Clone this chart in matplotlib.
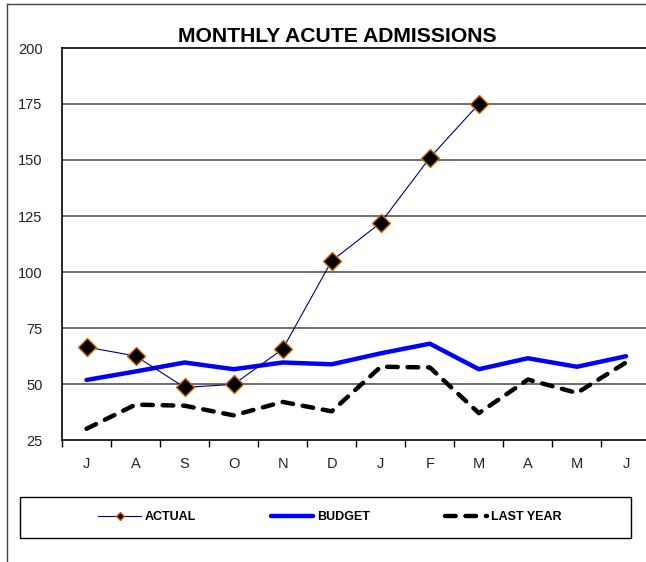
import matplotlib
matplotlib.use('Agg')
import matplotlib.pyplot as plt
from matplotlib.lines import Line2D
from matplotlib.patches import Rectangle

plt.rcParams['font.family'] = ['Liberation Sans', 'DejaVu Sans']

months = ['J', 'A', 'S', 'O', 'N', 'D', 'J', 'F', 'M', 'A', 'M', 'J']
actual = [66.5, 62.5, 48.5, 49.8, 65.6, 105, 122, 151, 175]
budget = [51.8, 55.6, 59.6, 56.6, 59.6, 58.8, 63.7, 68, 56.6, 61.5, 57.7, 62.4]
last_year = [30, 40.8, 40.3, 36, 42, 37.8, 57.7, 57.4, 37, 52, 46, 59.6]
yticks = [25, 50, 75, 100, 125, 150, 175, 200]

fig = plt.figure(figsize=(6.46, 5.62), dpi=100)
ax = fig.add_axes([62/646, 1-440/562, 588.5/646, 392/562])

x = range(len(months))
ax.plot(range(len(actual)), actual, color='#000080', lw=0.8, marker='D',
        markersize=9.5, markerfacecolor='black', markeredgecolor='#CC6600',
        markeredgewidth=1, zorder=5)
ax.plot(x, budget, color='#0000FF', lw=3.2, solid_capstyle='round', zorder=4)
ax.plot(x, last_year, color='black', lw=3.2, linestyle=(0, (2.4, 2.2)),
        dash_capstyle='round', zorder=3)

ax.set_xlim(-0.5, 11.5)
ax.set_ylim(25, 200)
ax.set_yticks(yticks)
ax.set_xticks([i + 0.5 for i in range(-1, 12)], minor=False)
ax.set_xticklabels([])
ax.set_xticks(list(x), minor=True)
ax.set_xticklabels(months, minor=True)
ax.tick_params(axis='x', which='major', length=5, direction='out', width=1)
ax.tick_params(axis='x', which='minor', length=0, pad=12, labelsize=10.5,
               labelcolor='#222222')
ax.tick_params(axis='y', length=0, pad=14, labelsize=10.5, labelcolor='#222222')
for v in yticks[1:-1]:
    ax.axhline(v, color='#606060', lw=1.3, zorder=1)
for s in ['left', 'bottom', 'top']:
    ax.spines[s].set_color('black')
    ax.spines[s].set_linewidth(1.2)
ax.spines['right'].set_visible(False)

fig.text(337/646, 1-37/562, 'MONTHLY ACUTE ADMISSIONS', ha='center',
         va='center', fontsize=15.2, fontweight='bold')

# outer chart frame
fig.add_artist(Line2D([7/646, 7/646], [0, 1-4/562], color='#444444', lw=1))
fig.add_artist(Line2D([7/646, 1], [1-4/562, 1-4/562], color='#444444', lw=1))

# legend box
fig.add_artist(Rectangle((20/646, 1-538/562), 611/646, 41/562,
                         transform=fig.transFigure, fill=False,
                         edgecolor='black', lw=1))

handles = [
    Line2D([], [], color='#000080', lw=0.8, marker='D', markersize=4.5,
           markerfacecolor='black', markeredgecolor='#CC6600'),
    Line2D([], [], color='#0000FF', lw=3.2, solid_capstyle='round'),
    Line2D([], [], color='black', lw=3.2, linestyle=(0, (2.4, 2.2)),
           dash_capstyle='round'),
]
leg = fig.legend(handles, ['ACTUAL', 'BUDGET', 'LAST YEAR'], ncol=3,
                 loc='center', bbox_to_anchor=(330/646, 1-517/562),
                 prop={'weight': 'bold', 'size': 9}, handlelength=3.4,
                 handletextpad=0.3, columnspacing=6.0, frameon=False)

fig.savefig('out.png', dpi=100)
